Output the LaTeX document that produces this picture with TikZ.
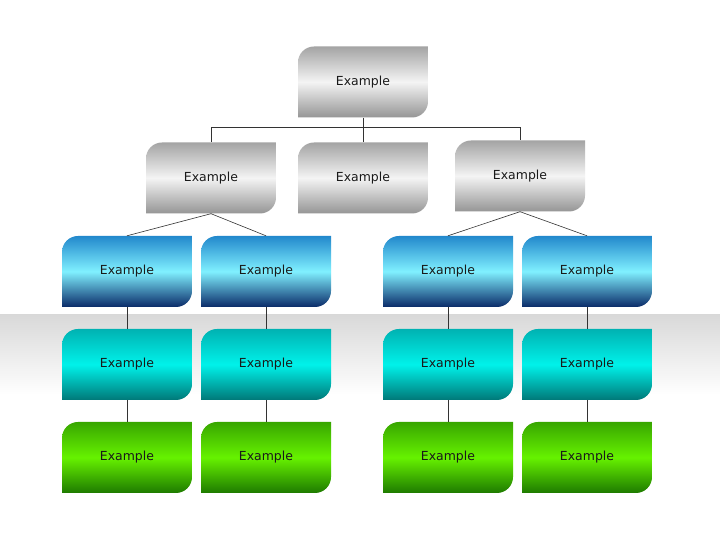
\documentclass[tikz,border=0pt]{standalone}
\usepackage{fontspec}
\setmainfont{DejaVu Sans}
\usetikzlibrary{positioning}
\definecolor{mygraytop}{HTML}{A4A4A4}
\definecolor{mygraymid}{HTML}{F4F4F4}
\definecolor{mygraybot}{HTML}{959595}
\definecolor{mybluetop}{HTML}{2288CC}
\definecolor{mybluemid}{HTML}{80F0FF}
\definecolor{mybluebot}{HTML}{0A2A68}
\definecolor{mycyantop}{HTML}{00B2B2}
\definecolor{mycyanmid}{HTML}{00F2EA}
\definecolor{mycyanbot}{HTML}{007878}
\definecolor{mygreentop}{HTML}{38A600}
\definecolor{mygreenmid}{HTML}{66F200}
\definecolor{mygreenbot}{HTML}{1E7A00}

\begin{document}
\begin{tikzpicture}[x=1bp,y=1bp,
  box/.style n args={3}{minimum width=130bp,minimum height=71bp,inner sep=0pt,
    text=black!90,font=\fontsize{12.5}{14}\selectfont,
    path picture={\shade[top color=#1,bottom color=#3,middle color=#2]
      (path picture bounding box.south west)
      -- ([yshift=-16bp]path picture bounding box.north west)
      arc[start angle=180,end angle=90,radius=16bp]
      -- (path picture bounding box.north east)
      -- ([yshift=16bp]path picture bounding box.south east)
      arc[start angle=0,end angle=-90,radius=16bp] -- cycle;}},
  grayb/.style={box={mygraytop}{mygraymid}{mygraybot}},
  blueb/.style={box={mybluetop}{mybluemid}{mybluebot}},
  cyanb/.style={box={mycyantop}{mycyanmid}{mycyanbot}},
  greenb/.style={box={mygreentop}{mygreenmid}{mygreenbot}},
  link/.style={draw=black!80,line width=0.6bp}]
  \useasboundingbox (0,0) rectangle (720,540);
  \fill[white] (0,0) rectangle (720,540);
  % shaded band behind the middle row
  \shade[top color=black!15,bottom color=white] (0,145) rectangle (720,225);
  % grey levels
  \node[grayb] (g0) at (363,458) {Example};
  \node[grayb] (g1) at (211,362) {Example};
  \node[grayb] (g2) at (363,362) {Example};
  \node[grayb] (g3) at (520,364) {Example};
  \coordinate (bus) at (363,413);
  \draw[link] (g0.south) -- (bus);
  \draw[link] (bus) -| (g1.north);
  \draw[link] (bus) -- (g2.north);
  \draw[link] (bus) -| (g3.north);
  % coloured columns
  \foreach \X/\x in {1/127,2/266,3/448,4/587}
  {\node[blueb] (b\X) at (\x,268.5) {Example};
   \node[cyanb] (c\X) at (\x,175.5) {Example};
   \node[greenb] (n\X) at (\x,82.5) {Example};
   \draw[link] (b\X) -- (c\X);
   \draw[link] (c\X) -- (n\X);}
  \draw[link] (g1.south) -- (b1.north);
  \draw[link] (g1.south) -- (b2.north);
  \draw[link] (g3.south) -- (b3.north);
  \draw[link] (g3.south) -- (b4.north);
\end{tikzpicture}
\end{document}
